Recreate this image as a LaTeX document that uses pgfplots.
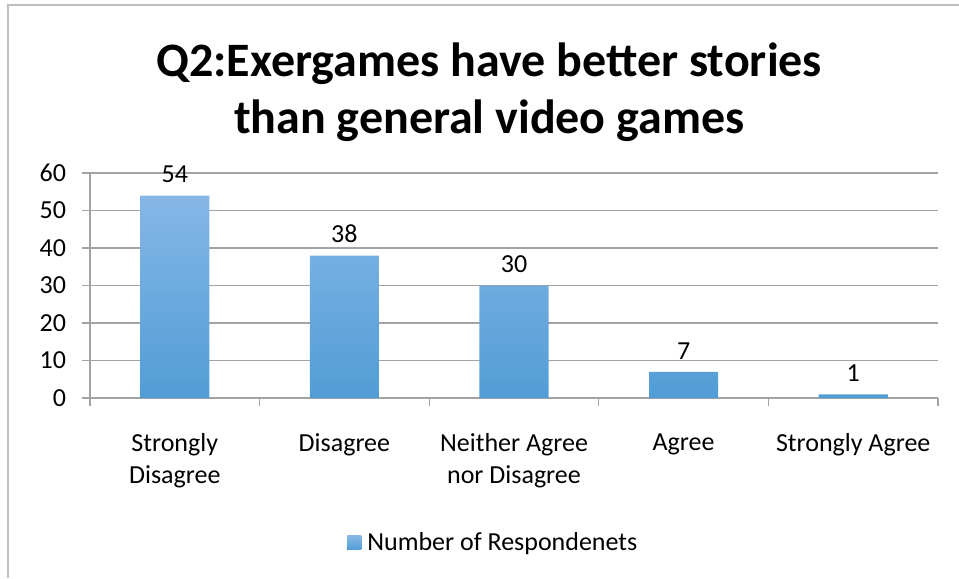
\documentclass[border=0pt]{standalone}
\usepackage{pgfplots}
\pgfplotsset{compat=1.18}
\usepackage{fontspec}
\setmainfont{Carlito}
\definecolor{bartop}{HTML}{86B7E6}
\definecolor{barbot}{HTML}{519DD6}
\definecolor{gridgray}{HTML}{A3A3A3}
\definecolor{framegray}{HTML}{BEBEBE}
\begin{document}
\begin{tikzpicture}
% canvas 959x578 px, 1px = 0.75pt
\path[use as bounding box] (0,0) rectangle (719.25pt,-433.5pt);
\draw[framegray, line width=1.5pt] (6pt,-433.5pt) -- (6pt,-3.75pt) -- (719.25pt,-3.75pt);
\node[anchor=base, font=\fontsize{36}{42}\selectfont\bfseries] at (367pt,-57pt) {Q2:Exergames have better stories};
\node[anchor=base, font=\fontsize{36}{42}\selectfont\bfseries] at (367pt,-99.75pt) {than general video games};
\begin{axis}[
    at={(67.5pt,-298.5pt)}, anchor=origin,
    scale only axis,
    width=636pt, height=168.75pt,
    xmin=0, xmax=5, ymin=0, ymax=60,
    ytick={0,10,...,60},
    xtick={0.5,1.5,2.5,3.5,4.5},
    xticklabels={Strongly\\Disagree, Disagree, Neither Agree\\nor Disagree, Agree, Strongly Agree},
    minor xtick={0,1,2,3,4,5},
    axis x line*=bottom, axis y line*=left,
    axis line style={gridgray, line width=0.9pt, -},
    major tick length=6pt, minor tick length=6pt,
    tick align=outside,
    x tick style={draw=none},
    minor x tick style={draw=gridgray, line width=0.9pt},
    y tick style={gridgray, line width=0.9pt},
    ymajorgrids, grid style={gridgray, line width=0.9pt},
    tick label style={font=\fontsize{19.5}{24}\selectfont},
    xticklabel style={align=center, anchor=north, yshift=-17pt},
    yticklabel style={xshift=-8.5pt},
    /pgf/number format/assume math mode=true,
    legend style={at={(0.476,-0.644)}, anchor=center, draw=none, fill=none,
        font=\fontsize{19.5}{24}\selectfont, inner sep=0pt},
    legend image code/.code={\fill[top color=bartop, bottom color=barbot] (0pt,-5.25pt) rectangle (10.5pt,5.25pt); \path (13pt,0pt);},
    nodes near coords,
    nodes near coords style={font=\fontsize{19.5}{24}\selectfont, text=black, yshift=6pt},
]
\addplot[ybar, bar width=0.407, draw=none, top color=bartop, bottom color=barbot]
    coordinates {(0.5,54) (1.5,38) (2.5,30) (3.5,7) (4.5,1)};
\addlegendentry{Number of Respondenets}
\end{axis}
\end{tikzpicture}
\end{document}
